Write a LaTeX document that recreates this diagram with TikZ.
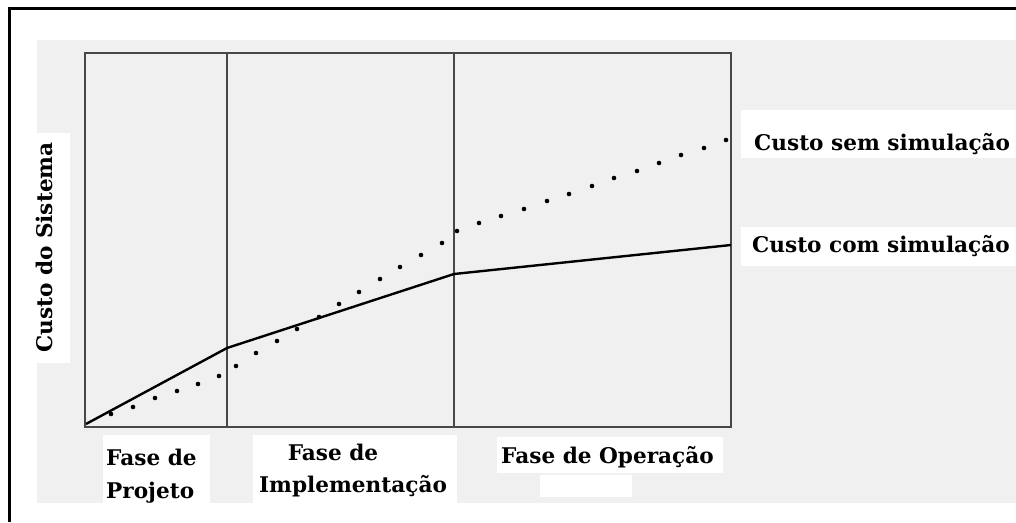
\documentclass[tikz,border=0pt]{standalone}
\usepackage{fontspec}
\setmainfont{DejaVu Serif}
\begin{document}
\begin{tikzpicture}[x=1pt,y=-1pt,
  lbl/.style={font=\fontsize{21.6}{24}\selectfont\bfseries, inner sep=0pt, text=black},
  patch/.style={fill=white, draw=none},
  chartline/.style={draw=black!72, line width=1.7pt},
  dotmark/.style={fill=black, draw=none}]
\useasboundingbox (0,0) rectangle (1016,522);
\fill[white] (0,0) rectangle (1016,522);
% light grey scanned background
\fill[black!6] (37,40) rectangle (1016,503);
% white patches behind labels
\fill[patch] (37,133) rectangle (70,363);
\fill[patch] (741,110) rectangle (1016,158);
\fill[patch] (741,227) rectangle (1016,266);
\fill[patch] (103,435) rectangle (210,503);
\fill[patch] (253,435) rectangle (457,503);
\fill[patch] (497,437) rectangle (723,473);
\fill[patch] (540,475) rectangle (632,497);
% outer frame (left and top)
\draw[black, line width=3pt] (9,522) -- (9,8) -- (1016,8);
% chart box and phase dividers
\draw[chartline] (85,53) rectangle (731,427);
\draw[chartline] (227,53) -- (227,427);
\draw[chartline] (454,53) -- (454,427);
% cost with simulation
\draw[black, line width=2.4pt, line join=round] (86,424) -- (227,348) -- (454,274) -- (731,245);
% cost without simulation (dotted)
\foreach \px/\py in {111/414,133/407,155/398,177/391,198/384,219/376,236/366,256/353,
  277/341,297/329,319/317,339/304,359/292,380/279,400/267,421/255,442/243,457/231,
  479/223,501/216,524/209,547/201,569/194,592/186,614/178,637/171,659/163,681/155,
  704/148,726/140}
  \fill[dotmark] (\px,\py) circle (2.3);
% labels
\node[lbl, anchor=base west] (sem) at (754,150) {Custo sem simulação};
\node[lbl, anchor=base west] (com) at (752,252) {Custo com simulação};
\node[lbl, anchor=base west, rotate=90] (eixo) at (52,353) {Custo do Sistema};
\node[lbl, anchor=base west] (proj1) at (106,465) {Fase de};
\node[lbl, anchor=base west] (proj2) at (106,498) {Projeto};
\node[lbl, anchor=base] (impl1) at (333,460) {Fase de};
\node[lbl, anchor=base] (impl2) at (353,492) {Implementação};
\node[lbl, anchor=base west] (oper) at (501,463) {Fase de Operação};
\end{tikzpicture}
\end{document}
